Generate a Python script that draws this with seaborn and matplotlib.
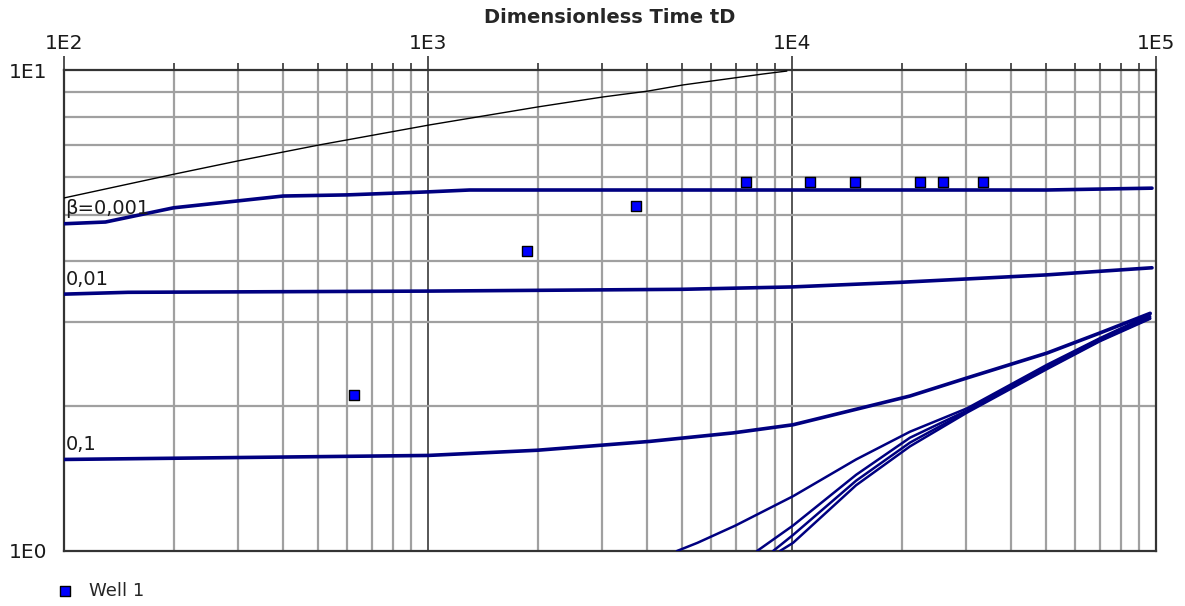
import numpy as np
import pandas as pd
import matplotlib
matplotlib.use("Agg")
import matplotlib.pyplot as plt
import seaborn as sns
from matplotlib.ticker import LogLocator, NullFormatter

# dados
well_td = [626, 1871, 3725, 7480, 11200, 14900, 22500, 26000, 33500]
well_pd = [2.11, 4.20, 5.21, 5.85, 5.85, 5.85, 5.85, 5.85, 5.85]

upper_td = [100, 202, 300, 505, 1012, 2004, 3027, 4020, 5020, 8318, 9680]
upper_pd = [5.42, 6.08, 6.47, 6.99, 7.69, 8.38, 8.79, 9.04, 9.31, 9.81, 9.95]

b0001_td = [100, 130, 200, 400, 600, 1000, 1300, 50000, 97500]
b0001_pd = [4.79, 4.83, 5.17, 5.47, 5.50, 5.58, 5.63, 5.63, 5.68]

b001_td = [100, 150, 1000, 5000, 10000, 20000, 50000, 97500]
b001_pd = [3.42, 3.45, 3.47, 3.50, 3.54, 3.62, 3.75, 3.88]

b01_td = [100, 1000, 2000, 4070, 6890, 10070, 15380, 21090, 30270, 50230, 70150, 96390]
b01_pd = [1.55, 1.58, 1.62, 1.69, 1.76, 1.83, 1.98, 2.10, 2.29, 2.58, 2.84, 3.12]

b1_td = [4830, 5500, 7000, 10070, 15000, 21090, 30270, 50230, 70150, 96390]
b1_pd = [1.00, 1.04, 1.13, 1.30, 1.55, 1.77, 1.98, 2.44, 2.77, 3.10]

b10_td = [8017, 10070, 15000, 21090, 30270, 50230, 70150, 96390]
b10_pd = [1.00, 1.13, 1.44, 1.72, 1.96, 2.42, 2.76, 3.07]

b100_td = [8872, 10070, 15000, 21090, 30270, 50230, 70150, 96390]
b100_pd = [1.00, 1.08, 1.40, 1.68, 1.95, 2.40, 2.74, 3.05]

binf_td = [9268, 10070, 15000, 21090, 30270, 50230, 70150, 96390]
binf_pd = [1.00, 1.04, 1.37, 1.65, 1.94, 2.39, 2.73, 3.04]

curve_labels = {"β=0,001": (b0001_td, b0001_pd), "0,01": (b001_td, b001_pd), "0,1": (b01_td, b01_pd)}

x_ticks = [1e2, 1e3, 1e4, 1e5]
x_ticklabels = ["1E2", "1E3", "1E4", "1E5"]
y_ticks = [1, 10]
y_ticklabels = ["1E0", "1E1"]

sns.set_style("white")
plt.rcParams["font.family"] = ["DejaVu Sans"]

fig = plt.figure(figsize=(11.85, 6.06), dpi=100)
ax = fig.add_axes([64 / 1185, 55 / 606, 1092 / 1185, 481 / 606])
ax.set_xscale("log")
ax.set_yscale("log")

navy = "#000080"
sns.lineplot(x=upper_td, y=upper_pd, ax=ax, color="black", linewidth=1.0, sort=False, zorder=3)
for td, pd_ in [(b0001_td, b0001_pd), (b001_td, b001_pd), (b01_td, b01_pd)]:
    sns.lineplot(x=td, y=pd_, ax=ax, color=navy, linewidth=2.6, sort=False, zorder=3)
for td, pd_ in [(b1_td, b1_pd), (b10_td, b10_pd), (b100_td, b100_pd), (binf_td, binf_pd)]:
    sns.lineplot(x=td, y=pd_, ax=ax, color=navy, linewidth=1.8, sort=False, zorder=3)

sns.scatterplot(x=well_td, y=well_pd, ax=ax, marker="s", s=60, color="#0000ff",
                edgecolor="black", linewidth=1.0, label="Well 1", zorder=4, legend=False)

for txt, (td, pd_) in curve_labels.items():
    ax.annotate(txt, (td[0], pd_[0]), xytext=(1, 4), textcoords="offset points",
                fontsize=14, color="#1a1a1a", va="bottom", ha="left", zorder=5)

ax.set_xlim(1e2, 1e5)
ax.set_ylim(1, 10)

ax.xaxis.tick_top()
ax.xaxis.set_label_position("top")
ax.set_xticks(x_ticks)
ax.set_xticklabels(x_ticklabels)
ax.set_yticks(y_ticks)
ax.set_yticklabels(y_ticklabels)
ax.xaxis.set_minor_locator(LogLocator(base=10, subs=np.arange(2, 10)))
ax.yaxis.set_minor_locator(LogLocator(base=10, subs=np.arange(2, 10)))
ax.xaxis.set_minor_formatter(NullFormatter())
ax.yaxis.set_minor_formatter(NullFormatter())

ax.tick_params(axis="both", which="major", length=10, width=1.2, color="#333333",
               labelsize=14.5, labelcolor="#1a1a1a", pad=2, direction="out")
ax.tick_params(axis="both", which="minor", length=5, width=1.2, color="#333333", direction="out")
ax.tick_params(axis="x", which="both", top=True, bottom=False)

ax.set_xlabel("Dimensionless Time tD", fontsize=14, fontweight="bold", labelpad=8)
ax.set_ylabel("")

ax.grid(True, which="minor", color="#a0a0a0", linewidth=1.6)
ax.grid(True, which="major", color="#3a3a3a", linewidth=1.2)
ax.set_axisbelow(True)
for sp in ax.spines.values():
    sp.set_color("#333333")
    sp.set_linewidth(1.6)

handles, labels = ax.get_legend_handles_labels()
fig.legend(handles, labels, loc="center left", bbox_to_anchor=(47 / 1185, 1 - 591 / 606),
           frameon=False, fontsize=13, handletextpad=0.3, markerscale=0.85,
           borderaxespad=0, borderpad=0)

fig.savefig("out.png", dpi=100)
